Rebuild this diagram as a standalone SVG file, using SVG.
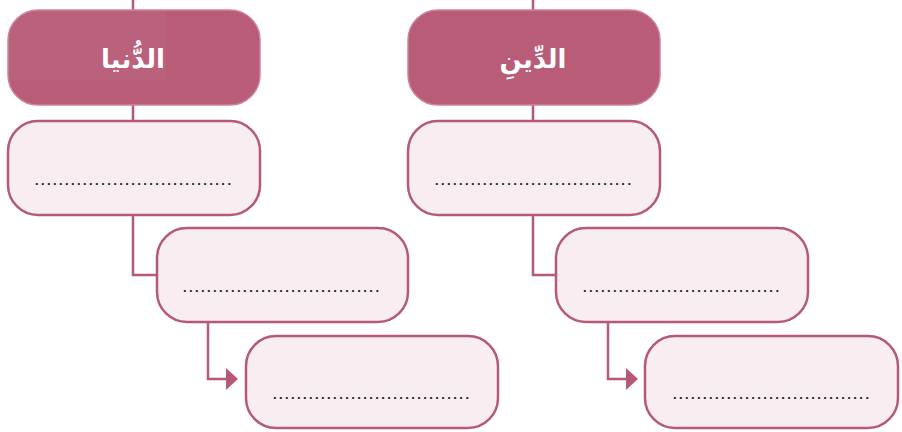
<svg xmlns="http://www.w3.org/2000/svg" width="902" height="432" viewBox="0 0 902 432">
<defs>
<style>
.hdr{fill:#b85c78;stroke:#cc8499;stroke-width:1.5}
.box{fill:#f8eef1;stroke:#b6587a;stroke-width:2.5}
.con{fill:none;stroke:#b6587a;stroke-width:2.5}
.arr{fill:#b6587a}
.ht{font-family:"DejaVu Sans",sans-serif;font-weight:bold;font-size:26px;fill:#ffffff;text-anchor:middle}
.dots{font-family:"Liberation Sans",sans-serif;font-weight:bold;font-size:13px;fill:#222222;letter-spacing:2.4px}
</style>
</defs>
<rect width="902" height="432" fill="#ffffff"/>
<g id="connectors">
<path class="con" d="M133,0 V10 M133,105 V121"/>
<path class="con" d="M533,0 V10 M533,105 V121"/>
<path class="con" d="M133,215 V275 H157"/>
<path class="con" d="M533,215 V275 H556"/>
<path class="con" d="M208,322 V379 H228"/>
<polygon class="arr" points="226,368 238,379 226,390"/>
<path class="con" d="M608,322 V379 H628"/>
<polygon class="arr" points="626,368 638,379 626,390"/>
</g>
<g id="header-dunya">
<rect class="hdr" x="8" y="10" width="252" height="95" rx="30"/>
<text class="ht" x="133" y="68">الدُّنيا</text>
</g>
<rect x="0" y="10" width="166" height="70" fill="#ffffff" opacity="0.03"/>
<g id="header-din">
<rect class="hdr" x="408" y="10" width="252" height="95" rx="30"/>
<text class="ht" x="533" y="68">الدِّينِ</text>
</g>
<g id="left-box1">
<rect class="box" x="8" y="121" width="252" height="94" rx="30"/>
<text class="dots" x="35" y="185">.................................</text>
</g>
<g id="left-box2">
<rect class="box" x="157" y="228" width="251" height="94" rx="30"/>
<text class="dots" x="183" y="292">.................................</text>
</g>
<g id="left-box3">
<rect class="box" x="246" y="336" width="252" height="92" rx="30"/>
<text class="dots" x="273" y="399">.................................</text>
</g>
<g id="right-box1">
<rect class="box" x="408" y="121" width="252" height="94" rx="30"/>
<text class="dots" x="435" y="185">.................................</text>
</g>
<g id="right-box2">
<rect class="box" x="556" y="228" width="252" height="94" rx="30"/>
<text class="dots" x="583" y="292">.................................</text>
</g>
<g id="right-box3">
<rect class="box" x="645" y="336" width="253" height="92" rx="30"/>
<text class="dots" x="673" y="399">.................................</text>
</g>
</svg>
